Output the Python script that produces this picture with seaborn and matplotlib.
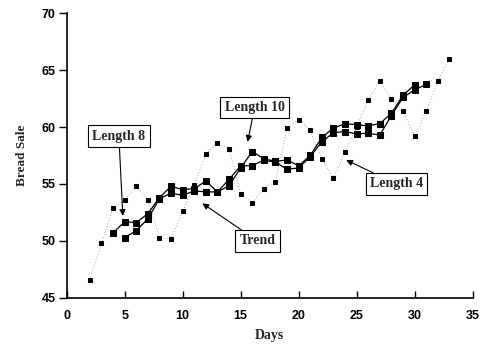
import matplotlib
matplotlib.use("Agg")
import matplotlib.pyplot as plt
import seaborn as sns
import numpy as np
import pandas as pd

# ---- data ----
days_raw = list(range(2, 34))
sales_len4 = [46.6, 49.8, 52.9, 53.6, 54.8, 53.6, 50.3, 50.2, 52.6, 54.9,
              57.6, 58.6, 58.1, 54.1, 53.35, 54.6, 55.2, 59.9, 60.65, 59.7,
              57.2, 55.5, 57.8, 60.0, 62.4, 64.0, 62.5, 61.4, 59.2, 61.4,
              64.0, 66.0]

days_len8 = list(range(4, 32))
sales_len8 = [50.7, 51.7, 51.6, 52.4, 53.8, 54.8, 54.5, 54.6, 55.25, 54.3,
              55.4, 56.6, 56.6, 57.1, 56.9, 56.3, 56.4, 57.4, 58.7, 59.5,
              59.6, 59.4, 59.45, 59.3, 61.0, 62.6, 63.25, 63.75]

days_len10 = list(range(5, 31))
sales_len10 = [50.3, 50.9, 51.95, 53.7, 54.2, 54.0, 54.4, 54.3, 54.3, 54.85,
               56.4, 57.85, 57.2, 57.0, 57.1, 56.6, 57.5, 59.1, 59.9, 60.3,
               60.2, 60.1, 60.3, 61.2, 62.8, 63.7]

x_ticks = [0, 5, 10, 15, 20, 25, 30, 35]
y_ticks = [45, 50, 55, 60, 65, 70]

df4 = pd.DataFrame({"Days": days_raw, "Bread Sale": sales_len4})
df8 = pd.DataFrame({"Days": days_len8, "Bread Sale": sales_len8})
df10 = pd.DataFrame({"Days": days_len10, "Bread Sale": sales_len10})

sns.set_theme(style="ticks")
plt.rcParams['font.family'] = ['Liberation Sans', 'DejaVu Sans']

fig = plt.figure(figsize=(4.85, 3.44), dpi=100)
ax = fig.add_axes([0.1375, 0.134, 0.837, 0.828])

# raw / length-4 points with faint dotted connections
sns.lineplot(data=df4, x="Days", y="Bread Sale", ax=ax, color="#888888",
             lw=0.6, linestyle=(0, (1, 2.5)), marker="s", markersize=3.2,
             markerfacecolor="black", markeredgecolor="black")
sns.lineplot(data=df8, x="Days", y="Bread Sale", ax=ax, color="black",
             lw=0.9, marker="s", markersize=4.2,
             markerfacecolor="black", markeredgecolor="black")
sns.lineplot(data=df10, x="Days", y="Bread Sale", ax=ax, color="black",
             lw=0.9, marker="s", markersize=4.2,
             markerfacecolor="black", markeredgecolor="black")

ax.set_xlim(0, 35)
ax.set_ylim(45, 70)
ax.set_xticks(x_ticks)
ax.set_yticks(y_ticks)
sns.despine(ax=ax)
for s in ["left", "bottom"]:
    ax.spines[s].set_linewidth(1.2)
    ax.spines[s].set_color("black")
ax.tick_params(axis="x", direction="in", length=5, width=1, pad=8.5,
               labelsize=9, colors="black")
ax.tick_params(axis="y", direction="out", length=6, width=1, pad=2,
               labelsize=9, colors="black")
for lab in ax.get_xticklabels() + ax.get_yticklabels():
    lab.set_fontweight("bold")

ax.set_xlabel("Days", family="Liberation Serif", fontweight="bold",
              fontsize=10, labelpad=5)
ax.set_ylabel("Bread Sale", family="Liberation Serif", fontweight="bold",
              fontsize=9.5, labelpad=10)

box = dict(boxstyle="square,pad=0.3", fc="white", ec="black", lw=0.8)
arr = dict(arrowstyle="-|>", color="black", lw=0.8, mutation_scale=9,
           shrinkA=0, shrinkB=0)
kw = dict(family="Liberation Serif", fontweight="bold", fontsize=10,
          ha="center", va="center", bbox=box, arrowprops=arr)
ax.annotate("Length 8", xy=(4.84, 52.2), xytext=(4.5, 59.2), **kw)
ax.annotate("Length 10", xy=(15.6, 58.7), xytext=(16.2, 61.7), **kw)
ax.annotate("Trend", xy=(11.7, 53.3), xytext=(16.45, 50.0), **kw)
ax.annotate("Length 4", xy=(24.1, 57.1), xytext=(28.45, 55.0), **kw)

fig.savefig("out.png", dpi=100)
